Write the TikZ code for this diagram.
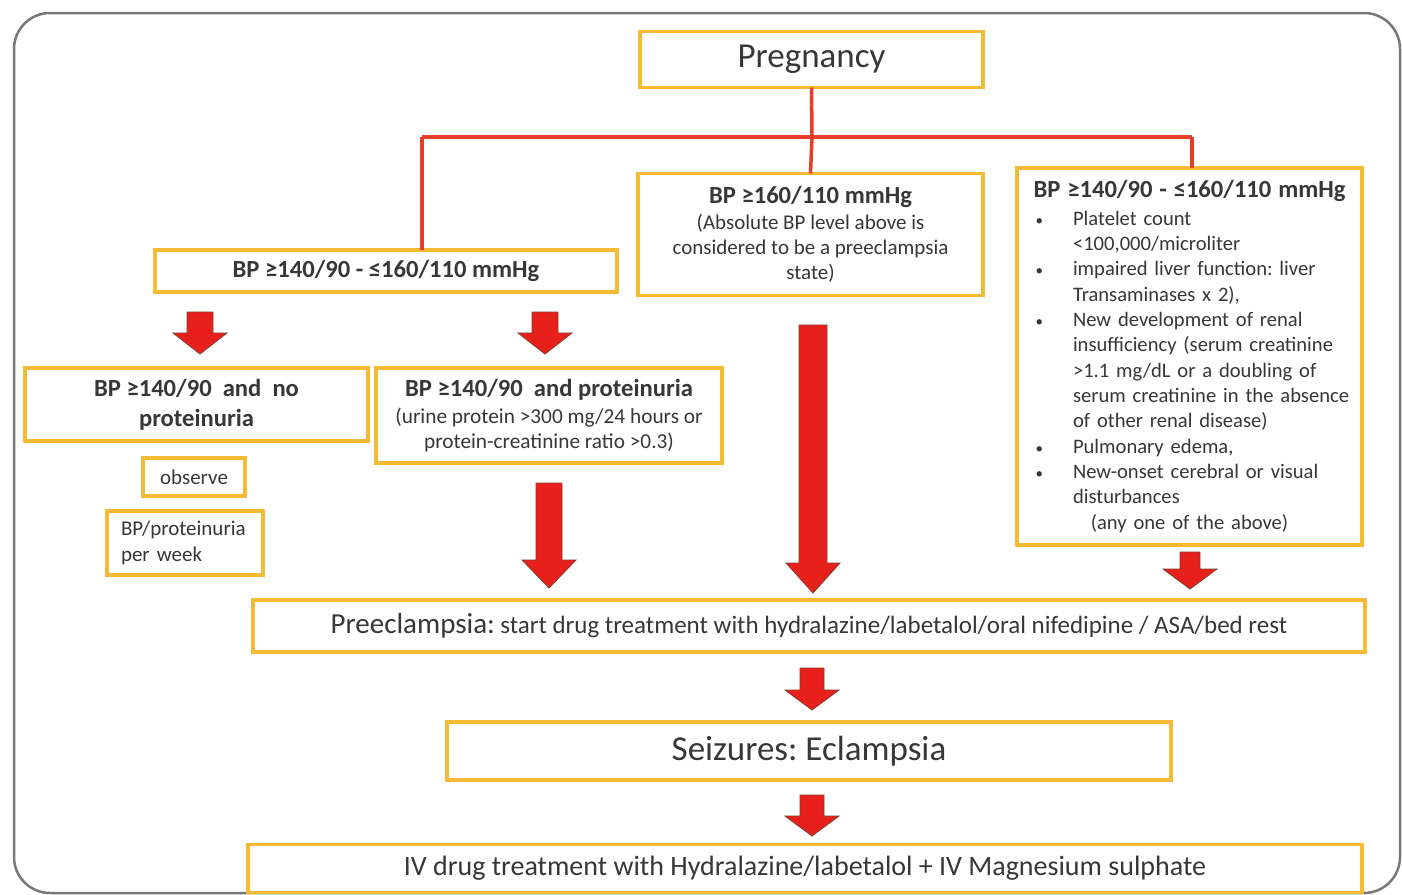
\documentclass[tikz,border=0pt]{standalone}
\usepackage{fontspec}
\setmainfont{Carlito}
\AtBeginDocument{\frenchspacing}
\definecolor{boxy}{RGB}{246,186,52}
\definecolor{redl}{RGB}{230,62,40}
\definecolor{arrf}{RGB}{232,32,28}
\definecolor{arrd}{RGB}{130,60,45}
\definecolor{txt}{RGB}{55,55,55}
\definecolor{frm}{RGB}{120,120,120}
\newcommand\bul[1]{\mbox{\makebox[39.5pt][l]{\hspace*{2pt}{\fontsize{15}{15}\selectfont •}}#1}}
\newcommand\ind[1]{\mbox{\hspace*{39.5pt}#1}}
\newcommand\fs[2]{\fontsize{#1}{#2}\selectfont}
\newcommand\barrow[6]{%
  \filldraw[barrsty] (#1-#4,#2) -- (#1+#4,#2) -- (#1+#4,#3-#6) -- (#1+#5,#3-#6) -- (#1,#3) -- (#1-#5,#3-#6) -- (#1-#4,#3-#6) -- cycle;}
\tikzset{
  box/.style={draw=boxy, line width=3.5pt, fill=white, rectangle, inner sep=0pt, outer sep=0pt, text=txt, align=center},
  redline/.style={draw=redl, line width=3.5pt},
  barrsty/.style={fill=arrf, draw=arrd, line width=0.8pt, line join=miter},
  framesty/.style={draw=frm, line width=2.5pt, rounded corners=36pt}
}
\begin{document}
\begin{tikzpicture}[x=1pt,y=-1pt]
\useasboundingbox (0,0) rectangle (1402,894);
\fill[white] (0,0) rectangle (1402,894);
\draw[framesty] (14,13) rectangle (1400,893);

\coordinate (hL) at (422,137);
\coordinate (hM) at (812,137);
\coordinate (hR) at (1192,137);

\node[box, minimum width=343, minimum height=56, font=\fs{35}{40}] (preg) at (811.5,59.5) {Pregnancy};
\node[box, minimum width=462, minimum height=42, font=\fs{24.6}{28}\bfseries] (bpL) at (386,271) {BP ≥140/90 - ≤160/110 mmHg};
\node[box, minimum width=345, minimum height=122, font=\fs{21}{24.8}] (bpM) at (810.5,234.5) {{\fs{24.6}{26}\bfseries BP ≥160/110 mmHg}\\[1pt](Absolute BP level above is\\considered to be a preeclampsia\\state)};
\node[box, minimum width=345, minimum height=377, text width=312, align=left, font=\fs{20.6}{25.3}] (bpR) at (1189.5,356.5) {\makebox[312pt][c]{\fs{24.6}{25.3}\bfseries BP ≥140/90 - ≤160/110 mmHg}\\[3pt]
\bul{Platelet count}\\
\ind{<100,000/microliter}\\
\bul{impaired liver function: liver}\\
\ind{Transaminases x 2),}\\
\bul{New development of renal}\\
\ind{insufficiency (serum creatinine}\\
\ind{>1.1 mg/dL or a doubling of}\\
\ind{serum creatinine in the absence}\\
\ind{of other renal disease)}\\
\bul{Pulmonary edema,}\\
\bul{New-onset cerebral or visual}\\
\ind{disturbances}\\[1pt]
\makebox[312pt][c]{(any one of the above)}};

\draw[redline] (preg.south) -- (hM);
\draw[redline] (hL) -- (hR);
\draw[redline] (hL) -- (bpL.north -| hL);
\draw[redline] (hM) -- (bpM.north);
\draw[redline] (hR) -- (bpR.north -| hR);

\node[box, minimum width=343, minimum height=73, font=\fs{24.6}{30}\bfseries] (noP) at (196.5,404.5) {BP ≥140/90\ \ and\ \ no\\proteinuria};
\node[box, minimum width=346, minimum height=95, font=\fs{21.3}{25}] (withP) at (549,415.5) {{\fs{24.6}{26}\bfseries BP ≥140/90\ \ and proteinuria}\\[2pt](urine protein >300 mg/24 hours or\\protein-creatinine ratio >0.3)};
\node[box, minimum width=102, minimum height=38, font=\fs{21}{25}] (obs) at (194,477) {observe};
\node[box, minimum width=156, minimum height=64, text width=128, align=left, font=\fs{21}{26}] (week) at (185,543) {BP/proteinuria\\per week};

\node[box, minimum width=1112, minimum height=52] (pre) at (809,626) {{\fs{29}{32}Preeclampsia:}\hspace{3pt} {\fs{25}{28}start drug treatment with hydralazine/labetalol/oral nifedipine / ASA/bed rest}};
\node[box, minimum width=724, minimum height=58, font=\fs{35}{40}] (seiz) at (809,751) {Seizures: Eclampsia};
\node[box, minimum width=1114, minimum height=48, font=\fs{28}{32}] (iv) at (805,868.5) {IV drug treatment with Hydralazine/labetalol + IV Magnesium sulphate};

% block arrows between the boxes
\barrow{200}{312}{354}{13}{27}{21}
\barrow{545}{312}{354}{13}{27}{21}
\barrow{813}{325}{593}{14}{27}{30}
\barrow{549}{483}{588}{13}{27}{28}
\barrow{1190}{552}{589}{10}{27}{20}
\barrow{812}{668}{710}{12}{27}{20}
\barrow{812}{795}{836}{12}{27}{20}
\end{tikzpicture}
\end{document}
